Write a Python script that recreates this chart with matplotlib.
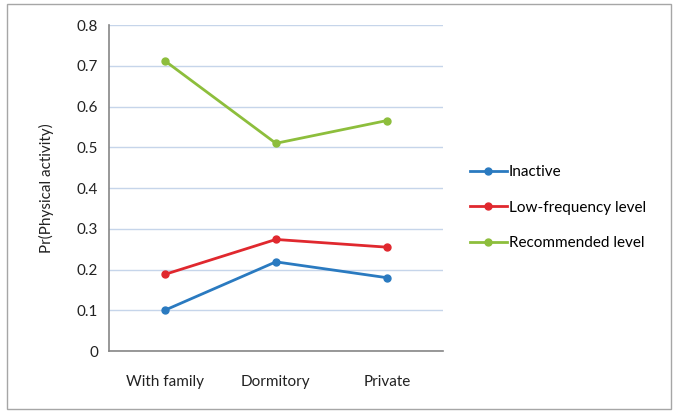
import matplotlib
matplotlib.use("Agg")
import matplotlib.pyplot as plt
from matplotlib.patches import Rectangle

categories = ["With family", "Dormitory", "Private"]
inactive = [0.100, 0.219, 0.180]
low_freq = [0.188, 0.274, 0.255]
recommended = [0.713, 0.510, 0.566]
y_ticks = [0, 0.1, 0.2, 0.3, 0.4, 0.5, 0.6, 0.7, 0.8]
y_tick_labels = ["0", "0.1", "0.2", "0.3", "0.4", "0.5", "0.6", "0.7", "0.8"]

plt.rcParams["font.family"] = ["Lato", "DejaVu Sans"]

fig = plt.figure(figsize=(6.77, 4.13), dpi=100)
ax = fig.add_axes([0.161, 0.150, 0.493, 0.789])

x = range(len(categories))
ax.plot(x, inactive, color="#2A7AC0", marker="o", markersize=5, linewidth=2, label="Inactive")
ax.plot(x, low_freq, color="#E0282E", marker="o", markersize=5, linewidth=2, label="Low-frequency level")
ax.plot(x, recommended, color="#8DBE3C", marker="o", markersize=5, linewidth=2, label="Recommended level")

ax.set_xlim(-0.5, 2.5)
ax.set_ylim(0, 0.8)
ax.set_yticks(y_ticks)
ax.set_yticklabels(y_tick_labels)
ax.set_xticks(list(x))
ax.set_xticklabels(categories)
ax.tick_params(axis="both", length=0, labelsize=11, colors="#222222")
ax.tick_params(axis="x", pad=17)
ax.tick_params(axis="y", pad=8)
ax.grid(axis="y", color="#C6D5EA", linewidth=1)
ax.set_axisbelow(True)
for side in ["top", "right"]:
    ax.spines[side].set_visible(False)
for side in ["left", "bottom"]:
    ax.spines[side].set_color("#868686")
    ax.spines[side].set_linewidth(1.2)
ax.set_ylabel("Pr(Physical activity)", fontsize=11, color="#222222", labelpad=16)

ax.legend(loc="center left", bbox_to_anchor=(1.04, 0.44), frameon=False, fontsize=11,
          handlelength=2.4, handletextpad=0.15, labelspacing=1.4)

fig.patches.append(Rectangle((0.011, 0.01), 0.98, 0.98, transform=fig.transFigure,
                             fill=False, edgecolor="#A6A6A6", linewidth=1))

fig.savefig("out.png", dpi=100)
